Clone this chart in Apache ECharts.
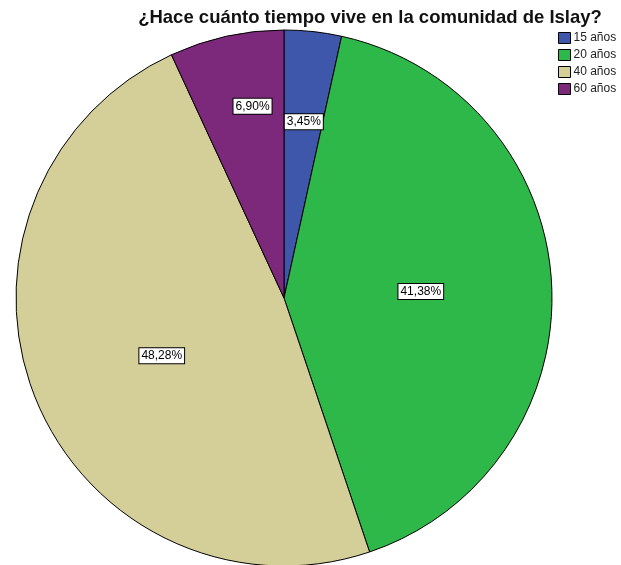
<!DOCTYPE html>
<html>
<head>
<meta charset="utf-8">
<script src="https://cdn.jsdelivr.net/npm/echarts@6/dist/echarts.min.js"></script>
<style>
  html, body { margin: 0; padding: 0; background: #fff; }
  #chart { width: 621px; height: 565px; }
</style>
</head>
<body>
<div id="chart"></div>
<script>
const categories = ['15 años', '20 años', '40 años', '60 años']
const percents = [3.45, 41.38, 48.28, 6.90]
const colors = ['#3f57ab', '#2eb84a', '#d4ce98', '#7c297c']
// small nudges for the two thin slices, like the SPSS label placement
const labelOffsets = [[5, -40], [0, 1], [5, 7], [-2, -58]]

const myChart = echarts.init(document.getElementById('chart'))

const option = {
  animation: false,
  title: {
    text: '¿Hace cuánto tiempo vive en la comunidad de Islay?',
    left: 370,
    textAlign: 'center',
    top: 8,
    padding: 0,
    textStyle: {
      fontFamily: 'Liberation Sans, Arial, sans-serif',
      fontSize: 18.5,
      fontWeight: 'bold',
      color: '#111',
    },
  },
  legend: {
    orient: 'vertical',
    left: 558,
    top: 32,
    padding: 0,
    itemWidth: 12,
    itemHeight: 11,
    itemGap: 5,
    icon: 'rect',
    selectedMode: false,
    itemStyle: { borderColor: '#000', borderWidth: 1 },
    textStyle: {
      fontFamily: 'Liberation Sans, Arial, sans-serif',
      fontSize: 12,
      lineHeight: 12,
      color: '#222',
      padding: [0, 0, 0, -2],
    },
    data: categories,
  },
  series: [
    {
      type: 'pie',
      center: [284, 298],
      radius: 268,
      startAngle: 90,
      clockwise: true,
      itemStyle: { borderColor: '#000', borderWidth: 1 },
      label: {
        show: true,
        position: 'inside',
        formatter: (p) => p.value.toFixed(2).replace('.', ',') + '%',
        fontFamily: 'Liberation Sans, Arial, sans-serif',
        fontSize: 12,
        color: '#000',
        backgroundColor: '#fff',
        borderColor: '#000',
        borderWidth: 1,
        padding: [2, 2, 1, 2],
      },
      labelLine: { show: false },
      emphasis: { disabled: true },
      data: categories.map((name, i) => ({
        name: name,
        value: percents[i],
        itemStyle: { color: colors[i] },
        label: { offset: labelOffsets[i] },
      })),
    },
  ],
}

myChart.setOption(option)
</script>
</body>
</html>
